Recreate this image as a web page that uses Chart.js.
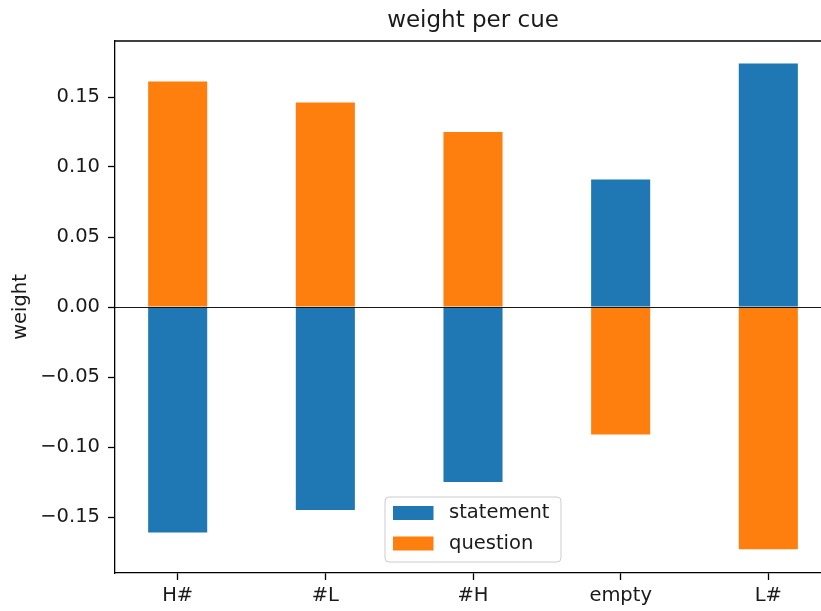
<!DOCTYPE html>
<html>
<head>
<meta charset="utf-8">
<script src="https://cdn.jsdelivr.net/npm/chart.js@4/dist/chart.umd.min.js"></script>
<style>
  html, body { margin: 0; padding: 0; background: #fff; overflow: hidden; }
  #wrap { position: absolute; left: 0; top: 0; width: 840px; height: 611px; }
</style>
</head>
<body>
<div id="wrap"><canvas id="c"></canvas></div>
<script>
// Cue labels and the weight each class gets per cue
const categories = ['H#', '#L', '#H', 'empty', 'L#'];
const statementWeights = [-0.161, -0.145, -0.125, 0.091, 0.174];
const questionWeights = [0.161, 0.146, 0.125, -0.091, -0.173];
const yTickValues = [-0.15, -0.10, -0.05, 0.00, 0.05, 0.10, 0.15];
const seriesNames = ['statement', 'question'];
const seriesColors = ['#1f77b4', '#ff7f0e'];
const chartTitle = 'weight per cue';
const yAxisLabel = 'weight';

const FONT = "'DejaVu Sans', 'Liberation Sans', sans-serif";
const TEXT = '#1a1a1a';

const toPoints = vals => vals.map((v, i) => ({ x: i, y: v }));

// Top frame line, zero line, title, axis label and legend box
const decorations = {
  id: 'decorations',
  afterDatasetsDraw(chart) {
    const { ctx, chartArea, scales } = chart;
    const y0 = scales.y.getPixelForValue(0);
    ctx.save();
    ctx.strokeStyle = 'rgba(0,0,0,0.9)';
    ctx.lineWidth = 1;
    ctx.beginPath();
    ctx.moveTo(chartArea.left, Math.round(y0) + 0.5);
    ctx.lineTo(chartArea.right, Math.round(y0) + 0.5);
    ctx.stroke();
    ctx.restore();
  },
  afterDraw(chart) {
    const { ctx, chartArea } = chart;
    ctx.save();
    // top spine
    ctx.strokeStyle = '#000';
    ctx.lineWidth = 1.3;
    ctx.beginPath();
    ctx.moveTo(chartArea.left, chartArea.top);
    ctx.lineTo(chartArea.right, chartArea.top);
    ctx.stroke();

    // title
    ctx.fillStyle = TEXT;
    ctx.font = `23px ${FONT}`;
    ctx.textAlign = 'center';
    ctx.textBaseline = 'alphabetic';
    ctx.fillText(chartTitle, (chartArea.left + chartArea.right) / 2, 27);

    // y axis label
    ctx.save();
    ctx.translate(21, (chartArea.top + chartArea.bottom) / 2);
    ctx.rotate(-Math.PI / 2);
    ctx.font = `19.5px ${FONT}`;
    ctx.textBaseline = 'middle';
    ctx.fillText(yAxisLabel, 0, 0);
    ctx.restore();

    // legend
    const lx = 385, ly = 497, lw = 176, lh = 65, r = 4;
    ctx.beginPath();
    ctx.moveTo(lx + r, ly);
    ctx.arcTo(lx + lw, ly, lx + lw, ly + lh, r);
    ctx.arcTo(lx + lw, ly + lh, lx, ly + lh, r);
    ctx.arcTo(lx, ly + lh, lx, ly, r);
    ctx.arcTo(lx, ly, lx + lw, ly, r);
    ctx.closePath();
    ctx.fillStyle = 'rgba(255,255,255,0.8)';
    ctx.fill();
    ctx.strokeStyle = '#cccccc';
    ctx.lineWidth = 1;
    ctx.stroke();

    ctx.font = `19.5px ${FONT}`;
    ctx.textAlign = 'left';
    ctx.textBaseline = 'middle';
    chart.data.datasets.forEach((ds, i) => {
      const py = 506 + i * 30.5;
      ctx.fillStyle = ds.backgroundColor;
      ctx.fillRect(393, py, 40.5, 14);
      ctx.fillStyle = TEXT;
      ctx.fillText(ds.label, 449, py + 7);
    });
    ctx.restore();
  }
};

const fmt = v => {
  const s = Math.abs(v).toFixed(2);
  return v < -1e-9 ? '\u2212' + s : s;
};

new Chart(document.getElementById('c'), {
  type: 'bar',
  data: {
    datasets: [
      { label: seriesNames[0], data: toPoints(statementWeights), backgroundColor: seriesColors[0],
        barPercentage: 0.4, categoryPercentage: 1.0 },
      { label: seriesNames[1], data: toPoints(questionWeights), backgroundColor: seriesColors[1],
        barPercentage: 0.4, categoryPercentage: 1.0 }
    ]
  },
  options: {
    responsive: true,
    maintainAspectRatio: false,
    animation: false,
    layout: { padding: { left: 0, top: 41, right: 9, bottom: 0 } },
    plugins: {
      legend: { display: false },
      title: { display: false },
      tooltip: { enabled: false }
    },
    scales: {
      x: {
        type: 'linear',
        stacked: true,
        offset: false,
        min: -0.4245,
        max: 4.4245,
        afterBuildTicks: s => { s.ticks = categories.map((c, i) => ({ value: i })); },
        afterFit: s => { s.height = 38; },
        grid: { display: true, offset: false, drawOnChartArea: false, drawTicks: true, tickLength: 7, tickColor: '#000', tickWidth: 1.3 },
        border: { display: true, color: '#000', width: 1.3 },
        ticks: {
          padding: 4,
          color: TEXT,
          font: { family: FONT, size: 19.5 },
          maxRotation: 0,
          autoSkip: false,
          callback: v => categories[v]
        }
      },
      y: {
        stacked: true,
        min: -0.190,
        max: 0.190,
        afterBuildTicks: s => { s.ticks = yTickValues.map(v => ({ value: v })); },
        afterFit: s => { s.width = 115; },
        grid: { display: true, drawOnChartArea: false, drawTicks: true, tickLength: 7, tickColor: '#000', tickWidth: 1.3 },
        border: { display: true, color: '#000', width: 1.3 },
        ticks: {
          padding: 8,
          color: TEXT,
          font: { family: FONT, size: 19.5 },
          callback: v => fmt(v)
        }
      }
    }
  },
  plugins: [decorations]
});
</script>
</body>
</html>
